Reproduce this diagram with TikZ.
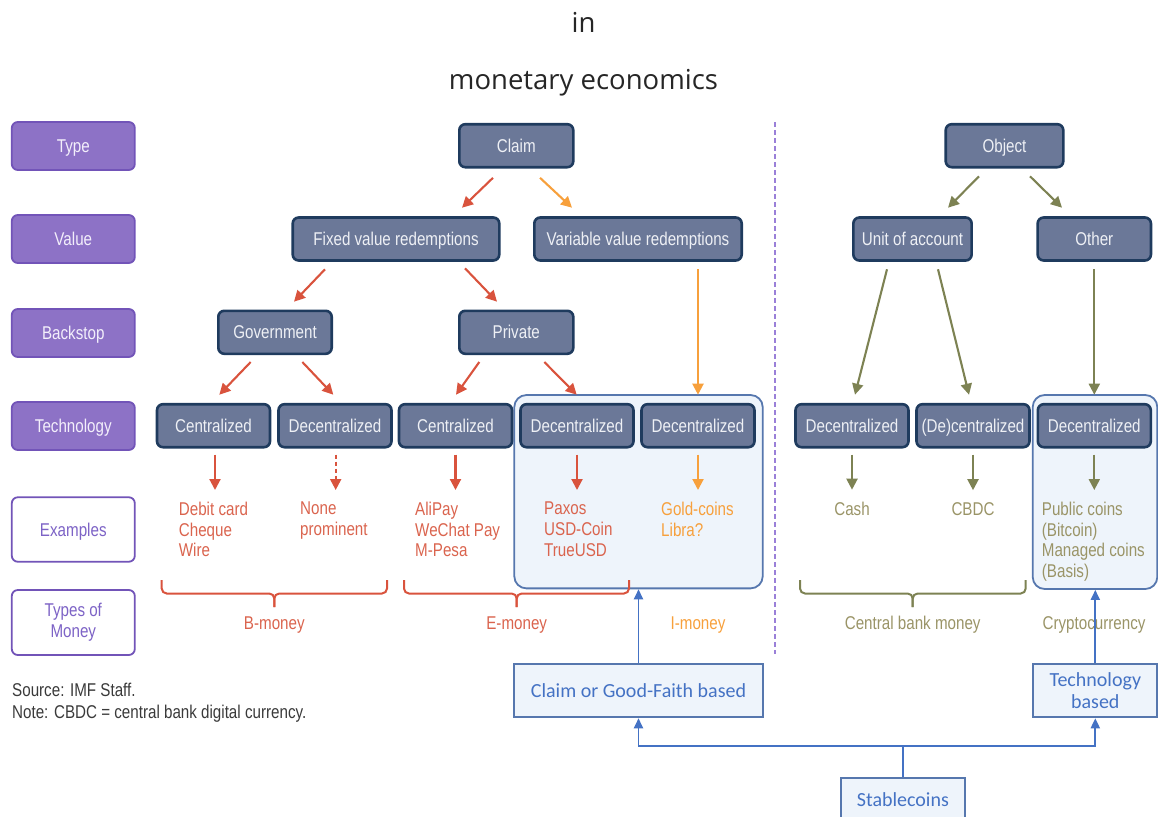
\documentclass[tikz,border=0pt]{standalone}
\usepackage{fontspec}
\usetikzlibrary{arrows.meta,calc}
\newfontfamily\narfont[FakeStretch=0.82]{Liberation Sans}
\newfontfamily\titlefont{Open Sans}
\newfontfamily\califont{Carlito}
\definecolor{labfill}{HTML}{8D72C6}
\definecolor{labborder}{HTML}{7254B8}
\definecolor{labtxt}{HTML}{F3EFFB}
\definecolor{labtxtp}{HTML}{7D63C6}
\definecolor{dfill}{HTML}{6B7898}
\definecolor{dborder}{HTML}{1F3B5E}
\definecolor{dtxt}{HTML}{EEF0F5}
\definecolor{redc}{HTML}{D9533D}
\definecolor{redt}{HTML}{DA644E}
\definecolor{orac}{HTML}{F7A03C}
\definecolor{olivec}{HTML}{7D8253}
\definecolor{olivet}{HTML}{9A9467}
\definecolor{contfill}{HTML}{EEF4FB}
\definecolor{contborder}{HTML}{5677AE}
\definecolor{bluec}{HTML}{4472C4}
\definecolor{dashp}{HTML}{9A80D8}
\definecolor{notec}{HTML}{3A3A3A}
\newcommand{\brc}[4]{%
  \draw[#4, line width=2pt, rounded corners=5pt] (#1,580) -- (#1,593.5) -- (#3,593.5) -- (#3,607);
  \draw[#4, line width=2pt, rounded corners=5pt] (#2,580) -- (#2,593.5) -- (#3,593.5) -- (#3,607);}
\begin{document}
\begin{tikzpicture}[x=1pt,y=-1pt,
  nar/.style={font=\narfont\fontsize{18.5}{20.7}\selectfont},
  one/.style={text height=13.3pt,text depth=0pt},
  labbase/.style={nar, draw=labborder, fill=labfill, line width=1.8pt, rounded corners=6pt, minimum width=123pt, minimum height=48pt, text=labtxt, align=center, inner sep=1pt},
  lab/.style={labbase, one},
  labw/.style={labbase, fill=white, text=labtxtp, minimum height=64.5pt},
  dbox/.style={nar, one, draw=dborder, fill=dfill, line width=2.6pt, rounded corners=6pt, minimum height=43pt, text=dtxt, inner sep=1pt},
  cont/.style={draw=contborder, fill=contfill, line width=1.8pt, rounded corners=12pt},
  bbox/.style={draw=contborder, fill=contfill, line width=1.8pt, font=\califont\fontsize{20}{22.6}\selectfont, text=bluec, align=center, inner sep=1pt},
  ex/.style={nar, anchor=north west, align=left, inner sep=0pt},
  exc/.style={nar, inner sep=0pt, anchor=base},
  arr/.style={line width=2.1pt, -{Triangle[length=11pt,width=11pt]}},
  barr/.style={line width=1.9pt, draw=bluec, -{Triangle[length=10pt,width=9pt]}}
]
\useasboundingbox (0,0) rectangle (1158,816);
\clip (0,0) rectangle (1158,816);

% title
\node[font=\titlefont\fontsize{27.5}{30}\selectfont, anchor=base, inner sep=0pt, text=black!85] (ti1) at (583.5,33) {in};
\node[font=\titlefont\fontsize{27.5}{30}\selectfont, anchor=base, inner sep=0pt, text=black!85] (ti2) at (583.5,89.7) {monetary economics};

% left labels
\node[lab] (lType) at (73.3,146) {Type};
\node[lab] (lValue) at (73.3,239) {Value};
\node[lab] (lBack) at (73.3,333) {Backstop};
\node[lab] (lTech) at (73.3,426) {Technology};
\node[labw, one] (lEx) at (73.3,529.5) {Examples};
\node[labw, minimum height=65pt] (lTypes) at (73.3,622.5) {Types of\\Money};

% containers
\node[cont, minimum width=248.4pt, minimum height=193.3pt] (cA) at (638.5,491.7) {};
\node[cont, minimum width=124.6pt, minimum height=194pt] (cB) at (1095,492) {};

% divider
\draw[dashp, line width=1.6pt, dash pattern=on 5pt off 3pt] (775,122) -- (775,654);

% tree boxes
\node[dbox, minimum width=114pt] (claim) at (516.3,145.7) {Claim};
\node[dbox, minimum width=117.6pt] (object) at (1004.5,145.7) {Object};
\node[dbox, minimum width=206.6pt] (fixed) at (396,239) {Fixed value redemptions};
\node[dbox, minimum width=207.4pt] (var) at (638,239) {Variable value redemptions};
\node[dbox, minimum width=118.3pt] (unit) at (912.5,239) {Unit of account};
\node[dbox, minimum width=113.3pt] (other) at (1094.3,239) {Other};
\node[dbox, minimum width=113.4pt] (gov) at (275,332.3) {Government};
\node[dbox, minimum width=114pt] (priv) at (516.3,332.3) {Private};
\node[dbox, minimum width=113pt] (t1) at (213.5,425.7) {Centralized};
\node[dbox, minimum width=113pt] (t2) at (335,425.7) {Decentralized};
\node[dbox, minimum width=113pt] (t3) at (455.5,425.7) {Centralized};
\node[dbox, minimum width=113pt] (t4) at (577,425.7) {Decentralized};
\node[dbox, minimum width=113pt] (t5) at (698,425.7) {Decentralized};
\node[dbox, minimum width=113pt] (t6) at (852,425.7) {Decentralized};
\node[dbox, minimum width=113pt] (t7) at (973,425.7) {(De)centralized};
\node[dbox, minimum width=113pt] (t8) at (1094.3,425.7) {Decentralized};

% tree arrows
\draw[arr, redc] ($(claim.south)+(-23.3,9.3)$) -- ($(fixed.north)+(66,-8.5)$);
\draw[arr, orac] ($(claim.south)+(23.7,9.3)$) -- ($(var.north)+(-66,-8.5)$);
\draw[arr, redc] ($(fixed.south)+(-71,7.5)$) -- ($(gov.north)+(19,-7.8)$);
\draw[arr, redc] ($(fixed.south)+(69,6.5)$) -- ($(priv.north)+(-19.3,-7.8)$);
\draw[arr, redc] ($(gov.south)+(-24.3,6.9)$) -- ($(t1.north)+(5.8,-8.2)$);
\draw[arr, redc] ($(gov.south)+(27.3,6.9)$) -- ($(t2.north)+(-1.7,-8.2)$);
\draw[arr, redc] ($(priv.south)+(-37,6.9)$) -- ($(t3.north)+(0.5,-8.2)$);
\draw[arr, redc] ($(priv.south)+(28,6.9)$) -- ($(t4.north)+(-0.3,-8.2)$);
\draw[arr, orac] ($(var.south)+(60,7.5)$) -- ($(t5.north)+(0,-8.2)$);
\draw[arr, olivec] ($(object.south)+(-25.5,7.8)$) -- ($(unit.north)+(35.5,-8.5)$);
\draw[arr, olivec] ($(object.south)+(25.5,7.8)$) -- ($(other.north)+(-32.3,-8.5)$);
\draw[arr, olivec] ($(unit.south)+(-25.5,7.5)$) -- ($(t6.north)+(3,-8.2)$);
\draw[arr, olivec] ($(unit.south)+(25.5,7.5)$) -- ($(t7.north)+(-4,-8.2)$);
\draw[arr, olivec] ($(other.south)+(0,7.5)$) -- ($(t8.north)+(0,-8.2)$);

% examples
\node[ex, text=redt] (e1) at (178.7,501.7) {Debit card\\Cheque\\Wire};
\node[ex, text=redt] (e2) at (300,501.7) {None\\prominent};
\node[ex, text=redt] (e3) at (415,501.7) {AliPay\\WeChat Pay\\M-Pesa};
\node[ex, text=redt] (e4) at (544,501.7) {Paxos\\USD-Coin\\TrueUSD};
\node[ex, text=orac] (e5) at (661,501.7) {Gold-coins\\Libra?};
\node[exc, text=olivet] (e6) at (852,515) {Cash};
\node[exc, text=olivet] (e7) at (973,515) {CBDC};
\node[ex, text=olivet] (e8) at (1041.7,501.7) {Public coins\\(Bitcoin)\\Managed coins\\(Basis)};

% down arrows
\draw[arr, redc] ($(t1.south)+(1.5,6)$) -- ($(t1.south |- e1.north)+(1.5,-11.7)$);
\draw[arr, redc, dash pattern=on 4pt off 3pt] ($(t2.south)+(0.7,6)$) -- ($(t2.south |- e2.north)+(0.7,-11.7)$);
\draw[arr, redc] ($(t3.south)+(0,6)$) -- ($(t3.south |- e3.north)+(0,-11.7)$);
\draw[arr, redc] ($(t4.south)+(0,6)$) -- ($(t4.south |- e4.north)+(0,-11.7)$);
\draw[arr, orac] ($(t5.south)+(0,6)$) -- ($(t5.south |- e5.north)+(0,-11.7)$);
\draw[arr, olivec] ($(t6.south)+(0,6)$) -- ($(e6.north)+(0,-11.7)$);
\draw[arr, olivec] ($(t7.south)+(0,6)$) -- ($(e7.north)+(0,-11.7)$);
\draw[arr, olivec] ($(t8.south)+(0,6)$) -- ($(t8.south |- e8.north)+(0,-11.7)$);

% braces and money types
\brc{161.7}{387}{274.3}{redc}
\brc{404}{629}{516.7}{redc}
\brc{800}{1025.7}{912.7}{olivec}
\node[exc, text=redt] (mB) at (274.3,629) {B-money};
\node[exc, text=redt] (mE) at (516.7,629) {E-money};
\node[exc, text=orac] (mI) at (698,629) {I-money};
\node[exc, text=olivet] (mC) at (912.7,629) {Central bank money};
\node[exc, text=olivet] (mK) at (1094,629) {Cryptocurrency};

% notes
\node[nar, anchor=base west, inner sep=0pt, text=notec] (src) at (12,696) {Source: IMF Staff.};
\node[nar, anchor=base west, inner sep=0pt, text=notec] (note) at (12,718.3) {Note: CBDC = central bank digital currency.};

% blue part
\node[bbox, minimum width=248.4pt, minimum height=53.3pt] (cgf) at (638.5,690.7) {Claim or Good-Faith based};
\node[bbox, minimum width=124pt, minimum height=53.3pt] (tb) at (1095.3,690.7) {Technology\\based};
\node[bbox, minimum width=124.3pt, minimum height=44pt] (stab) at (902.9,799.7) {Stablecoins};
\coordinate (j) at ($(stab.north)+(0,-30.4)$);
\draw[bluec, line width=1.9pt] (stab.north) -- (j);
\draw[barr] (j) -| (cgf.south);
\draw[barr] (j) -| (tb.south);
\draw[barr] (cgf.north) -- (cgf.north |- cA.south);
\draw[barr] (tb.north) -- (tb.north |- cB.south);
\end{tikzpicture}
\end{document}
